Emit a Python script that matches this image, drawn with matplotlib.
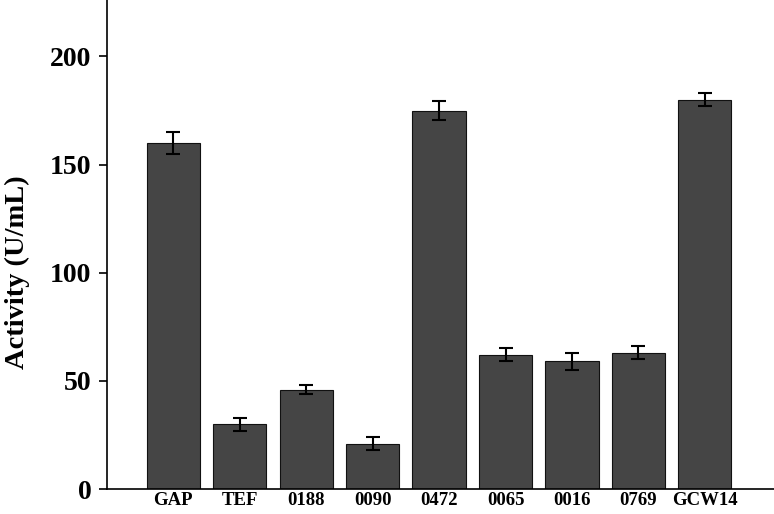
import numpy as np
import matplotlib
matplotlib.use('Agg')
import matplotlib.pyplot as plt

plt.rcParams['font.family'] = ['Liberation Serif', 'DejaVu Serif']
plt.rcParams['font.weight'] = 'bold'

# data
labels = ['GAP', 'TEF', '0188', '0090', '0472', '0065', '0016', '0769', 'GCW14']
activity = [160, 30, 46, 21, 175, 62, 59, 63, 180]
errors = [5, 3, 2, 3, 4.5, 3, 4, 3, 3]

fig = plt.figure(figsize=(7.74, 5.14), dpi=100)
ax = fig.add_axes([0.138, 0.0486, 0.862, 0.951])

x = np.arange(len(labels))
ax.bar(x, activity, width=0.8, color='#454545', edgecolor='#111111', linewidth=0.8,
       yerr=errors, capsize=5, error_kw={'elinewidth': 1.5, 'capthick': 1.5, 'ecolor': 'black'})

ax.set_xlim(-1.0, 9.04)
ax.set_ylim(0, 226)
ax.set_yticks([0, 50, 100, 150, 200])
ax.set_xticks(x)
ax.set_xticklabels(labels, fontsize=13.5, fontweight='bold')
ax.tick_params(axis='y', direction='out', length=6, width=1.2, labelsize=20, pad=5)
ax.tick_params(axis='x', length=0, pad=2)
for lbl in ax.get_yticklabels():
    lbl.set_fontweight('bold')

ax.spines['top'].set_visible(False)
ax.spines['right'].set_visible(False)
ax.spines['left'].set_linewidth(1.2)
ax.spines['bottom'].set_linewidth(1.2)

ax.set_ylabel('Activity (U/mL)', fontsize=20.5, fontweight='bold')
ax.yaxis.set_label_coords(-0.115, 0.444)

fig.savefig('out.png', dpi=100)
